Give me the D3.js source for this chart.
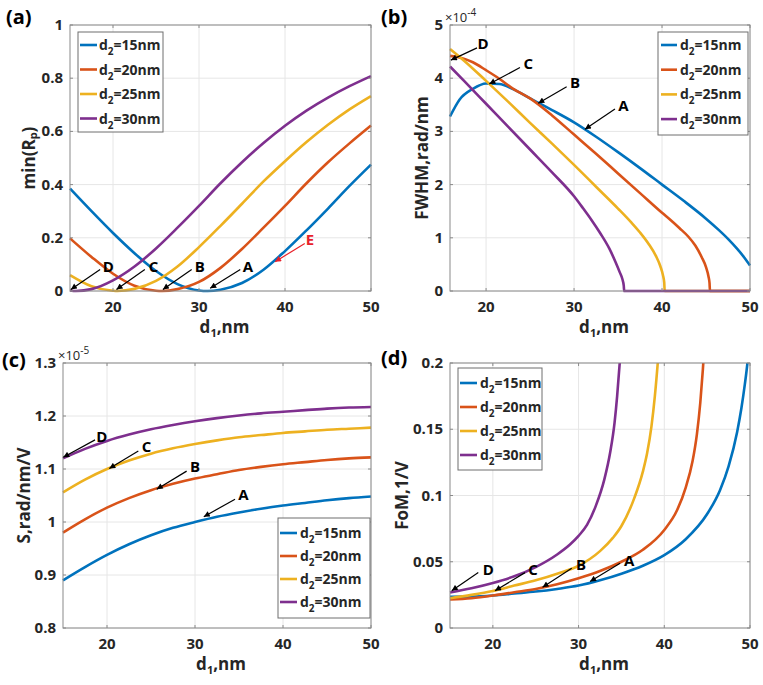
<!DOCTYPE html>
<html><head><meta charset="utf-8">
<script src="https://cdn.jsdelivr.net/npm/d3@7"></script>
<style>
body{margin:0;background:#fff}
svg{display:block}
text{font-family:"Open Sans","Liberation Sans",Arial,sans-serif;}
</style>
</head><body>
<svg id="chart" width="763" height="685"></svg>
<script>
// ---------------- DATA ----------------
const d2Labels = ["15nm", "20nm", "25nm", "30nm"];
const seriesColors = ["#0072BD", "#D95319", "#EDB120", "#7E2F8E"];
const xTicks = [20, 30, 40, 50];

// (a) min(Rp)
const a15x = [15,17.5,20,22.5,25,27.5,30,31,32.5,35,37.5,40,42.5,45,47.5,50];
const a15y = [0.385,0.30,0.218,0.142,0.075,0.026,0.002,0,0.005,0.03,0.08,0.15,0.228,0.31,0.395,0.475];
const a20x = [15,17.5,20,22.5,25,25.7,27.5,30,32.5,35,37.5,40,42.5,45,47.5,50];
const a20y = [0.198,0.128,0.065,0.02,0.001,0,0.007,0.034,0.087,0.158,0.238,0.32,0.405,0.484,0.555,0.622];
const a25x = [15,17.5,20,20.5,22.5,25,27.5,30,32.5,35,37.5,40,42.5,45,47.5,50];
const a25y = [0.06,0.018,0.001,0,0.008,0.038,0.092,0.165,0.245,0.328,0.412,0.488,0.56,0.625,0.683,0.733];
const a30x = [15,15.7,17.5,20,22.5,25,27.5,30,32.5,35,37.5,40,42.5,45,47.5,50];
const a30y = [0.002,0,0.007,0.04,0.092,0.16,0.238,0.32,0.405,0.484,0.556,0.621,0.678,0.727,0.77,0.808];
const aYTicks = [0,0.2,0.4,0.6,0.8,1];
const aYTickLabels = ["0","0.2","0.4","0.6","0.8","1"];

// (b) FWHM (x 1e-4)
const b15x = [15.9,17,18.5,20,21.5,23,25,27.5,30,32.5,35,37.5,40,42.5,45,46.5,47.5,48.5,49.3,50];
const b15y = [3.28,3.6,3.8,3.9,3.89,3.8,3.62,3.4,3.17,2.9,2.61,2.31,2.0,1.69,1.36,1.14,0.98,0.8,0.64,0.48];
const b20x = [15.9,17,18.5,20,21.5,23,25,27.5,30,32.5,35,37.5,40,41,42,43,43.8,44.5,45,45.3,45.4,45.45,50];
const b20y = [4.42,4.39,4.3,4.15,3.99,3.81,3.62,3.3,2.94,2.58,2.21,1.84,1.47,1.33,1.18,1.02,0.85,0.64,0.45,0.26,0.15,0,0];
const b25x = [15.9,17.5,20,22.5,25,27.5,30,32.5,35,36.5,37.5,38.5,39.3,39.8,40.1,40.25,40.3,50];
const b25y = [4.55,4.33,3.95,3.56,3.16,2.77,2.37,1.96,1.55,1.29,1.1,0.88,0.66,0.47,0.3,0.16,0,0];
const b30x = [15.9,17.5,20,22.5,25,27.5,30,31,32,33,34,34.7,35.2,35.5,35.65,35.7,50];
const b30y = [4.22,3.95,3.52,3.09,2.66,2.23,1.78,1.56,1.33,1.08,0.8,0.55,0.35,0.22,0.1,0,0];
const bYTicks = [0,1,2,3,4,5];
const bYTickLabels = ["0","1","2","3","4","5"];

// (c) S (x 1e-5)
const cX = [15,17.5,20,22.5,25,27.5,30,32.5,35,37.5,40,42.5,45,47.5,50];
const c15y = [0.89,0.915,0.938,0.958,0.975,0.989,1.0,1.01,1.018,1.025,1.031,1.036,1.041,1.045,1.048];
const c20y = [0.98,1.005,1.027,1.045,1.06,1.072,1.082,1.09,1.098,1.104,1.109,1.113,1.117,1.12,1.122];
const c25y = [1.056,1.08,1.1,1.116,1.129,1.139,1.147,1.154,1.16,1.164,1.168,1.171,1.174,1.176,1.178];
const c30y = [1.12,1.138,1.153,1.165,1.175,1.183,1.19,1.196,1.201,1.205,1.208,1.211,1.214,1.216,1.217];
const cYTicks = [0.8,0.9,1,1.1,1.2,1.3];
const cYTickLabels = ["0.8","0.9","1","1.1","1.2","1.3"];

// (d) FoM
const d15x = [15,17.5,20,22.5,25,27.5,30,32.5,35,37.5,40,42.5,45,46.5,47.5,48.5,49,49.4,49.7,49.9];
const d15y = [0.0236,0.0237,0.0245,0.026,0.0275,0.0295,0.032,0.036,0.041,0.047,0.055,0.067,0.086,0.104,0.122,0.148,0.166,0.184,0.2,0.214];
const d20x = [15,17.5,20,22.5,25,27.5,30,32.5,35,37.5,40,41.5,42.5,43.3,43.8,44.2,44.5,44.7];
const d20y = [0.0215,0.0225,0.0245,0.027,0.0295,0.033,0.0375,0.043,0.05,0.059,0.074,0.089,0.106,0.126,0.146,0.17,0.195,0.215];
const d25x = [15,17.5,20,22.5,25,27.5,30,32.5,34,35,36.5,37.5,38,38.5,38.9,39.3,39.5];
const d25y = [0.0225,0.025,0.028,0.032,0.036,0.041,0.047,0.058,0.068,0.077,0.098,0.118,0.132,0.152,0.175,0.205,0.222];
const d30x = [15,17.5,20,22.5,25,27.5,29,30,31,32,33,33.7,34.2,34.5,34.8,35];
const d30y = [0.0268,0.03,0.034,0.039,0.046,0.0555,0.063,0.0695,0.078,0.092,0.112,0.133,0.155,0.175,0.2,0.218];
const dYTicks = [0,0.05,0.1,0.15,0.2];
const dYTickLabels = ["0","0.05","0.1","0.15","0.2"];

// annotations: letter, label (x,y), arrow tail (x,y), arrow tip (x,y) in data units
const aNotes = [
  ["D",19.45,0.091,18.5,0.081,15.1,0.006],
  ["C",24.7,0.091,23.7,0.081,20.4,0.006],
  ["B",30.1,0.091,29.15,0.081,25.8,0.006],
  ["A",35.7,0.091,34.8,0.081,31.3,0.01],
  ["E",42.9,0.192,42.3,0.179,38.85,0.11]
];
const bNotes = [
  ["D",19.65,4.66,18.97,4.57,16.0,4.34],
  ["C",24.8,4.28,23.85,4.2,20.37,3.89],
  ["B",30.1,3.92,29.16,3.84,25.93,3.53],
  ["A",35.6,3.48,34.65,3.42,31.24,3.04]
];
const cNotes = [
  ["D",19.4,1.162,18.64,1.155,15.03,1.122],
  ["C",24.5,1.142,23.56,1.134,20.26,1.101],
  ["B",30.0,1.104,29.05,1.096,25.65,1.062],
  ["A",35.5,1.051,34.55,1.043,31.0,1.01]
];
const dNotes = [
  ["D",19.47,0.0443,18.3,0.0418,15.2,0.0281],
  ["C",24.7,0.0443,23.75,0.0418,20.25,0.0281],
  ["B",30.3,0.0481,29.2,0.0451,25.8,0.0307],
  ["A",35.9,0.0506,34.84,0.0489,31.34,0.0351]
];

// ---------------- DRAW ----------------
const svg = d3.select("#chart");
const defs = svg.append("defs");
function marker(id, col) {
  defs.append("marker").attr("id", id)
    .attr("viewBox", "0 0 10 10").attr("refX", 10).attr("refY", 5)
    .attr("markerUnits", "userSpaceOnUse")
    .attr("markerWidth", 7).attr("markerHeight", 6).attr("orient", "auto")
    .append("path").attr("d", "M0,0L10,5L0,10z").attr("fill", col);
}
marker("arrK", "#000");
marker("arrR", "#e8202a");

const panels = [
  { key:"a", letter:"(a)", L:70, R:371, T:25, B:291, xd:[15,50], yd:[0,1],
    yt:aYTicks, ytl:aYTickLabels, xs:[a15x,a20x,a25x,a30x], ys:[a15y,a20y,a25y,a30y], notes:aNotes,
    ylab:["min(R","p",")"], ylabX:28, letterX:6, letterY:24,
    leg:{x:78,y:32,w:85,h:100,first:13,step:24.5,lx0:80,lx1:97,tx:99} },
  { key:"b", letter:"(b)", L:450, R:750, T:25, B:291, xd:[15.9,50], yd:[0,5],
    yt:bYTicks, ytl:bYTickLabels, xs:[b15x,b20x,b25x,b30x], ys:[b15y,b20y,b25y,b30y], notes:bNotes,
    ylab:["FWHM,rad/nm","",""], ylabX:421, letterX:381, letterY:24, exp:"-4",
    leg:{x:658,y:32,w:90,h:103,first:13,step:24.7,lx0:661,lx1:677,tx:680} },
  { key:"c", letter:"(c)", L:63, R:371, T:363, B:628, xd:[15,50], yd:[0.8,1.3],
    yt:cYTicks, ytl:cYTickLabels, xs:[cX,cX,cX,cX], ys:[c15y,c20y,c25y,c30y], notes:cNotes,
    ylab:["S,rad/nm/V","",""], ylabX:23, letterX:2, letterY:367, exp:"-5",
    leg:{x:278,y:518,w:92,h:100,first:15,step:23,lx0:280,lx1:297,tx:300} },
  { key:"d", letter:"(d)", L:450, R:750, T:363, B:628, xd:[15,50], yd:[0,0.2],
    yt:dYTicks, ytl:dYTickLabels, xs:[d15x,d20x,d25x,d30x], ys:[d15y,d20y,d25y,d30y], notes:dNotes,
    ylab:["FoM,1/V","",""], ylabX:401, letterX:381, letterY:365,
    leg:{x:458,y:368,w:84,h:102,first:15,step:24,lx0:460,lx1:477,tx:480} }
];

const FRAME = "#8a8a8a", GRID = "#e6e6e6", TXT = "#262626";

panels.forEach(p => {
  const g = svg.append("g");
  const x = d3.scaleLinear().domain(p.xd).range([p.L, p.R]);
  const y = d3.scaleLinear().domain(p.yd).range([p.B, p.T]);

  // grid
  g.append("g").selectAll("line").data(xTicks).join("line")
    .attr("x1", d => x(d)).attr("x2", d => x(d)).attr("y1", p.T).attr("y2", p.B)
    .attr("stroke", GRID).attr("stroke-width", 1);
  g.append("g").selectAll("line").data(p.yt).join("line")
    .attr("y1", d => y(d)).attr("y2", d => y(d)).attr("x1", p.L).attr("x2", p.R)
    .attr("stroke", GRID).attr("stroke-width", 1);

  // clip
  const cid = "clip" + p.key;
  defs.append("clipPath").attr("id", cid).append("rect")
    .attr("x", p.L - 2).attr("y", p.T).attr("width", p.R - p.L + 4).attr("height", p.B - p.T + 2);

  // lines
  const line = d3.line().x(d => x(d[0])).y(d => y(d[1])).curve(d3.curveMonotoneX);
  const lg = g.append("g").attr("clip-path", `url(#${cid})`);
  p.xs.forEach((xsArr, i) => {
    const pts = xsArr.map((v, k) => [v, p.ys[i][k]]);
    lg.append("path").attr("d", line(pts)).attr("fill", "none")
      .attr("stroke", seriesColors[i]).attr("stroke-width", 2.6)
      .attr("stroke-linejoin", "round");
  });

  // frame
  g.append("rect").attr("x", p.L).attr("y", p.T).attr("width", p.R - p.L).attr("height", p.B - p.T)
    .attr("fill", "none").attr("stroke", FRAME).attr("stroke-width", 1);
  // ticks (inward, both sides)
  const tk = 3;
  xTicks.forEach(t => {
    g.append("line").attr("x1", x(t)).attr("x2", x(t)).attr("y1", p.B).attr("y2", p.B - tk).attr("stroke", FRAME);
    g.append("line").attr("x1", x(t)).attr("x2", x(t)).attr("y1", p.T).attr("y2", p.T + tk).attr("stroke", FRAME);
  });
  p.yt.forEach(t => {
    g.append("line").attr("y1", y(t)).attr("y2", y(t)).attr("x1", p.L).attr("x2", p.L + tk).attr("stroke", FRAME);
    g.append("line").attr("y1", y(t)).attr("y2", y(t)).attr("x1", p.R).attr("x2", p.R - tk).attr("stroke", FRAME);
  });

  // tick labels
  g.append("g").selectAll("text").data(xTicks).join("text")
    .attr("x", d => x(d)).attr("y", p.B + 21).attr("text-anchor", "middle")
    .attr("font-size", 15).attr("font-weight", 700).attr("fill", TXT).text(d => d);
  g.append("g").selectAll("text").data(p.yt).join("text")
    .attr("x", p.L - 7).attr("y", d => y(d) + 5).attr("text-anchor", "end")
    .attr("font-size", 15).attr("font-weight", 700).attr("fill", TXT)
    .text((d, i) => p.ytl[i]);

  // exponent label
  if (p.exp) {
    const t = g.append("text").attr("x", p.L - 5).attr("y", p.T - 3)
      .attr("font-size", 13).attr("fill", TXT);
    t.append("tspan").text("\u00d710");
    t.append("tspan").attr("dy", -6).attr("font-size", 10).text(p.exp);
  }

  // x label
  const xl = g.append("text").attr("x", (p.L + p.R) / 2 + 4).attr("y", p.B + 42)
    .attr("text-anchor", "middle").attr("font-size", 17).attr("font-weight", 700).attr("fill", TXT);
  xl.append("tspan").text("d");
  xl.append("tspan").attr("dy", 4).attr("font-size", 11).text("1");
  xl.append("tspan").attr("dy", -4).text(",nm");

  // y label
  const yl = g.append("text").attr("transform", `translate(${p.ylabX},${(p.T + p.B) / 2}) rotate(-90)`)
    .attr("text-anchor", "middle").attr("dominant-baseline", "central")
    .attr("font-size", 17).attr("font-weight", 700).attr("fill", TXT);
  yl.append("tspan").text(p.ylab[0]);
  if (p.ylab[1]) {
    yl.append("tspan").attr("dy", 4).attr("font-size", 11).text(p.ylab[1]);
    yl.append("tspan").attr("dy", -4).text(p.ylab[2]);
  }

  // panel letter
  g.append("text").attr("x", p.letterX).attr("y", p.letterY)
    .attr("font-size", 20).attr("font-weight", 700).attr("fill", "#000").text(p.letter);

  // annotations
  p.notes.forEach(n => {
    const red = n[0] === "E";
    const col = red ? "#e8202a" : "#000";
    g.append("line").attr("x1", x(n[3])).attr("y1", y(n[4])).attr("x2", x(n[5])).attr("y2", y(n[6]))
      .attr("stroke", col).attr("stroke-width", 1.2)
      .attr("marker-end", red ? "url(#arrR)" : "url(#arrK)");
    g.append("text").attr("x", x(n[1])).attr("y", y(n[2]) + 5.5)
      .attr("text-anchor", "middle").attr("font-size", 15).attr("font-weight", 700)
      .attr("fill", col).text(n[0]);
  });

  // legend
  const L = p.leg;
  g.append("rect").attr("x", L.x).attr("y", L.y).attr("width", L.w).attr("height", L.h)
    .attr("fill", "#fff").attr("stroke", "#6e6e6e").attr("stroke-width", 1);
  d2Labels.forEach((lab, i) => {
    const cy = L.y + L.first + i * L.step;
    g.append("line").attr("x1", L.lx0).attr("x2", L.lx1).attr("y1", cy).attr("y2", cy)
      .attr("stroke", seriesColors[i]).attr("stroke-width", 2.6);
    const t = g.append("text").attr("x", L.tx).attr("y", cy + 5)
      .attr("font-size", 14).attr("font-weight", 700).attr("fill", TXT);
    t.append("tspan").text("d");
    t.append("tspan").attr("dy", 5).attr("font-size", 10).text("2");
    t.append("tspan").attr("dy", -5).text("=" + lab);
  });
});
</script>
</body></html>
